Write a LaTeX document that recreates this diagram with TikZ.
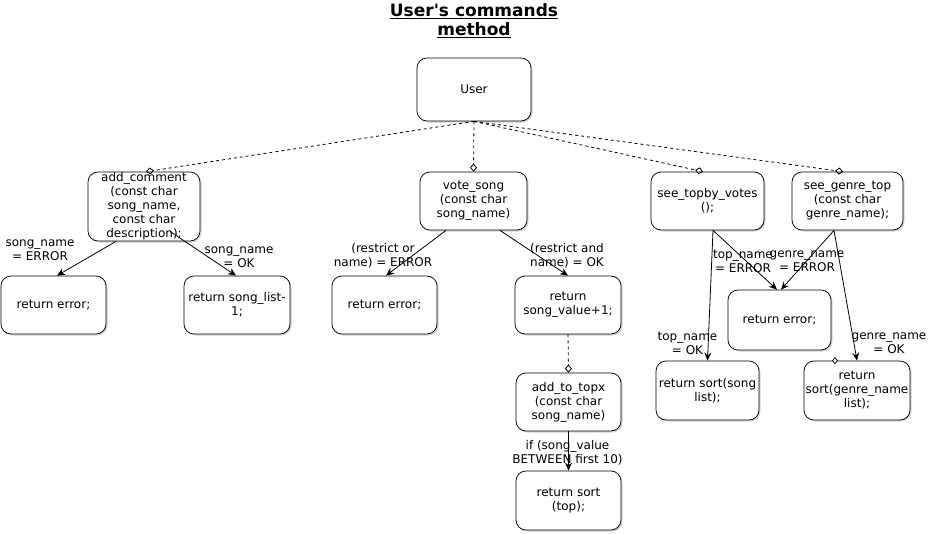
\documentclass[tikz,border=0pt]{standalone}
\usepackage{fontspec}
\setmainfont{DejaVu Sans}[Ligatures=TeXOff]
\usetikzlibrary{arrows.meta,shadows,calc}
\begin{document}
\begin{tikzpicture}[x=1pt,y=-1pt,
  box/.style={draw,line width=0.75pt,rounded corners=10pt,fill=white,align=center,
    font=\fontsize{12}{14}\selectfont,inner sep=0pt,
    drop shadow={shadow xshift=1.5pt,shadow yshift=-1.5pt,opacity=0.35,fill=gray}},
  lbl/.style={align=center,font=\fontsize{12}{14}\selectfont,inner sep=0pt},
  arr/.style={draw,line width=0.8pt,-{Stealth[length=8pt,width=7pt]}},
  dsh/.style={draw,line width=0.8pt,dash pattern=on 3pt off 3pt,
    -{Diamond[open,length=8pt,width=7pt]}}]
\useasboundingbox (0,0) rectangle (944,533);
% title
\node[align=center,font=\fontsize{17}{19}\selectfont\bfseries] (title) at (474,21)
  {\underline{User's commands}\\\underline{method}};
% nodes
\node[box,minimum width=114,minimum height=63] (user) at (474,89.5) {User};
\node[box,minimum width=112,minimum height=69] (addc) at (144,206.5)
  {add\_comment\\(const char\\song\_name,\\const char\\description);};
\node[box,minimum width=107,minimum height=58] (vote) at (473.5,201)
  {vote\_song\\(const char\\song\_name)};
\node[box,minimum width=113,minimum height=58] (seetop) at (707.5,201)
  {see\_topby\_votes\\();};
\node[box,minimum width=111,minimum height=58] (seegenre) at (847.5,201)
  {see\_genre\_top\\(const char\\genre\_name);};
\node[box,minimum width=105,minimum height=58] (err1) at (53.5,305) {return error;};
\node[box,minimum width=106,minimum height=58] (songlist) at (237,305)
  {return song\_list-\\1;};
\node[box,minimum width=105,minimum height=58] (err2) at (384.5,305) {return error;};
\node[box,minimum width=106,minimum height=58] (songval) at (568,305)
  {return\\song\_value+1;};
\node[box,minimum width=105,minimum height=58] (topx) at (568.5,402)
  {add\_to\_topx\\(const char\\song\_name)};
\node[box,minimum width=105,minimum height=59] (sorttop) at (568.5,500.5)
  {return sort\\(top);};
\node[box,minimum width=103,minimum height=60] (err3) at (779.5,320) {return error;};
\node[box,minimum width=103,minimum height=59] (sortsong) at (707.5,390.5)
  {return sort(song\\list);};
\node[box,minimum width=106,minimum height=59] (sortgenre) at (857,390.5)
  {return\\sort(genre\_name\\list);};
% dashed connectors
\path[dsh] (user.south) -- ([xshift=2pt]addc.north);
\path[dsh] (user.south) -- (vote.north);
\path[dsh] (user.south) -- ([xshift=-4.5pt]seetop.north);
\path[dsh] (user.south) -- ([xshift=-4.5pt]seegenre.north);
\path[dsh] (songval.south) -- (topx.north);
% arrows
\path[arr] ([xshift=-28pt]addc.south) -- ([xshift=3.5pt]err1.north);
\path[arr] ([xshift=26pt,yshift=10pt]addc.south) -- ([xshift=-1pt]songlist.north);
\path[arr] ([xshift=-27.5pt]vote.south) -- ([xshift=1.5pt]err2.north);
\path[arr] ([xshift=26.5pt]vote.south) -- (songval.north);
\path[arr] (topx.south) -- (sorttop.north);
\path[arr] ([xshift=5.5pt]seetop.south) -- ([xshift=-2.5pt]err3.north);
\path[arr] ([xshift=-13.5pt]seegenre.south) -- ([xshift=1.5pt]err3.north);
\path[arr] ([xshift=5.5pt]seetop.south) -- (sortsong.north);
\path[arr] ([xshift=-13.5pt]seegenre.south) -- (sortgenre.north);
% small diamond mark on sortgenre
\coordinate (dm) at ([xshift=-22pt]sortgenre.north);
\draw[line width=0.7pt,fill=white] ($(dm)+(0,-3)$) -- ++(2.5,3) -- ++(-2.5,3) -- ++(-2.5,-3) -- cycle;
% labels
\node[lbl] (l1) at (40,250) {song\_name\\= ERROR};
\node[lbl] (l2) at (239,257) {song\_name\\= OK};
\node[lbl] (l3) at (383,256) {(restrict or\\name) = ERROR};
\node[lbl] (l4) at (567,256) {(restrict and\\name) = OK};
\node[lbl] (l5) at (743,261) {top\_name\\= ERROR};
\node[lbl] (l6) at (807,261) {genre\_name\\= ERROR};
\node[lbl] (l7) at (687.5,343) {top\_name\\= OK};
\node[lbl] (l8) at (889,343) {genre\_name\\= OK};
\node[lbl] (l9) at (567.5,453) {if (song\_value\\BETWEEN first 10)};
\end{tikzpicture}
\end{document}
